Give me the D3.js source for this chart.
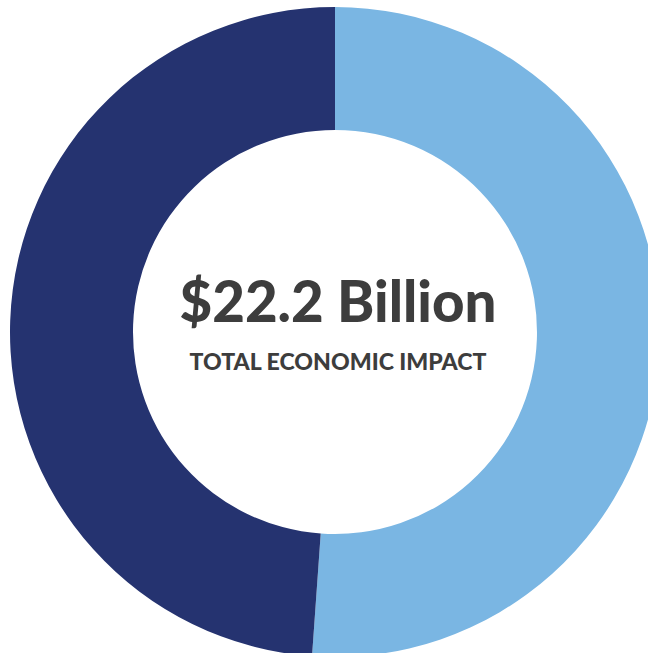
<!DOCTYPE html>
<html>
<head>
<meta charset="utf-8">
<script src="https://cdn.jsdelivr.net/npm/d3@7"></script>
<style>
  body { margin: 0; background: #fff; }
  svg { display: block; }
</style>
</head>
<body>
<div id="chart"></div>
<script>
// slice values (billions)
var segments = ["Segment A", "Segment B"];
var values = [11.35, 10.85];
var colors = ["#7ab6e3", "#253370"];
var totalLabel = "$22.2 Billion";
var subLabel = "TOTAL ECONOMIC IMPACT";

var width = 648, height = 653;
var cx = 335, cy = 332,
    outerR = 325, innerR = 202;

var svg = d3.select("#chart")
  .append("svg")
    .attr("width", width)
    .attr("height", height)
  .append("g")
    .attr("transform", "translate(" + cx + "," + cy + ")");

var pie = d3.pie()
  .sort(null)
  .value(function(d) { return d; });

var arc = d3.arc()
  .innerRadius(innerR)
  .outerRadius(outerR);

var color = d3.scaleOrdinal()
  .domain(segments)
  .range(colors);

svg.selectAll("path")
  .data(pie(values))
  .enter()
  .append("path")
    .attr("d", arc)
    .attr("fill", function(d, i) { return color(segments[i]); });

// center labels, sized to the widths seen in the reference
function fitText(sel, target) {
  var w = sel.node().getComputedTextLength();
  var fs = parseFloat(sel.attr("font-size"));
  sel.attr("font-size", (fs * target / w).toFixed(2));
}

var big = svg.append("text")
  .attr("x", 3)
  .attr("y", -10)
  .attr("text-anchor", "middle")
  .attr("font-family", "Lato, 'Noto Sans', sans-serif")
  .attr("font-weight", 900)
  .attr("font-size", 50)
  .attr("fill", "#3d3d3d")
  .text(totalLabel);
fitText(big, 317);

var small = svg.append("text")
  .attr("x", 3)
  .attr("y", 38)
  .attr("text-anchor", "middle")
  .attr("font-family", "Lato, 'Noto Sans', sans-serif")
  .attr("font-weight", 900)
  .attr("font-size", 20)
  .attr("fill", "#3d3d3d")
  .text(subLabel);
fitText(small, 297);
</script>
</body>
</html>
